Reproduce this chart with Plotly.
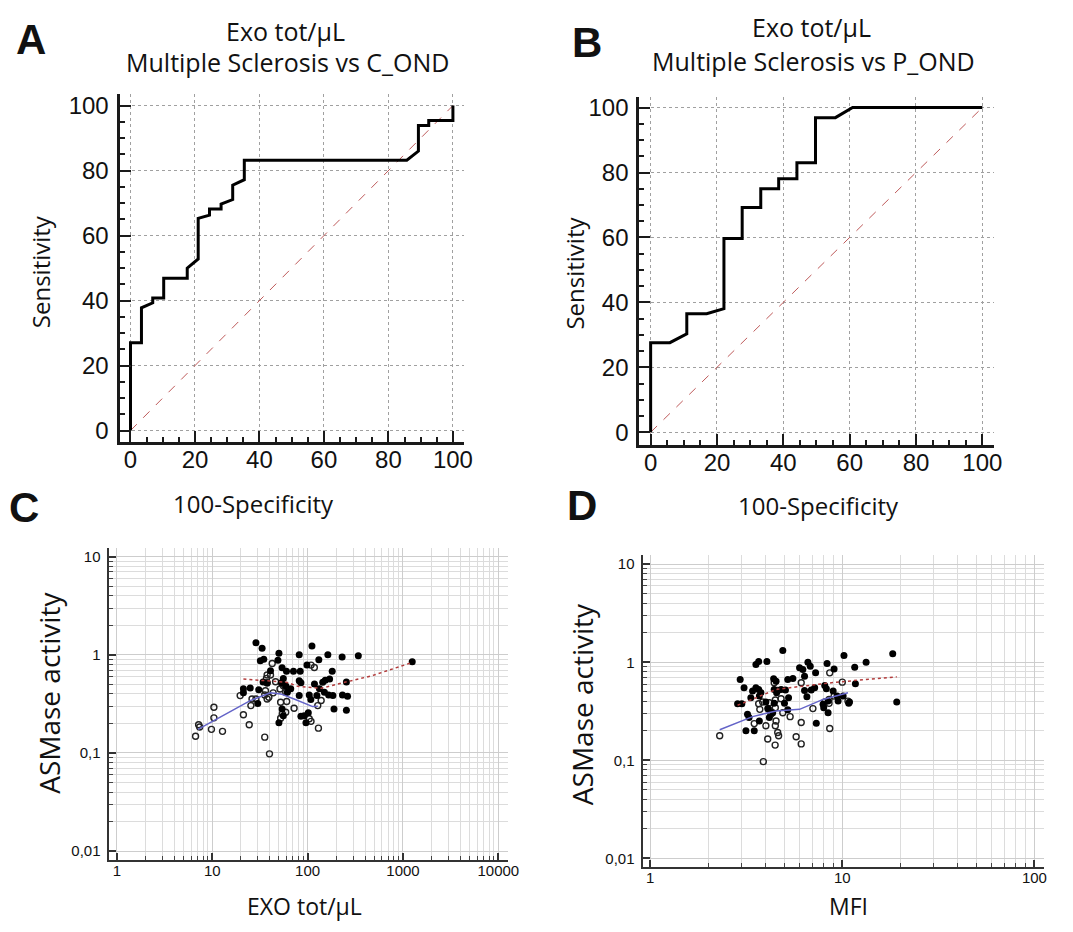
import plotly.graph_objects as go

# reference canvas and the browser's 8px body margin
REF_W, REF_H = 1073, 932
OFF = 8
W, H = REF_W - 2 * OFF, REF_H - 2 * OFF

# ---- A: ROC, Exo tot/uL, MS vs C_OND (100-specificity, sensitivity)
roc_a_fpr = [0, 0, 3.4, 3.4, 6.9, 6.9, 10.3, 10.3, 17.6, 17.6, 21, 21, 24.5, 24.5, 28.1, 28.1,
             31.7, 31.7, 35.3, 35.3, 85.7, 89.3, 89.3, 92.5, 92.5, 100, 100]
roc_a_tpr = [0, 27, 27, 37.8, 39.3, 40.8, 40.8, 46.9, 46.9, 50, 52.8, 65.3, 66.3, 68.2, 68.2, 69.7,
             71.1, 75.5, 77.2, 83.2, 83.2, 86, 93.9, 93.9, 95.4, 95.4, 100]

# ---- B: ROC, Exo tot/uL, MS vs P_OND
roc_b_fpr = [0, 0, 5.8, 10.9, 10.9, 16.9, 22.1, 22.1, 27.6, 27.6, 33.2, 33.2, 38.6, 38.6,
             44.1, 44.1, 49.7, 49.7, 55.7, 60.9, 100]
roc_b_tpr = [0, 27.6, 27.6, 30.3, 36.5, 36.5, 38.1, 59.7, 59.7, 69.2, 69.2, 75, 75, 78.1,
             78.1, 83, 83, 96.9, 96.9, 100, 100]

diag = [0, 100]

# ---- C: ASMase activity vs EXO tot/uL
c_ms_exo = [28.7, 33.3, 31.9, 34.7, 50, 48.8, 81.6, 111, 98.4, 163, 230, 340, 1250, 131, 54, 60,
            71, 83.6, 181, 21.2, 21.2, 25, 30.7, 34.1, 37.6, 30, 53, 55.6, 58.9, 61.3, 66.5, 81.6,
            85, 81.6, 85, 92, 54, 55.6, 50, 96, 101.6, 104, 108, 118, 125, 133, 144, 153, 170,
            150, 166, 184, 189, 255, 232, 262, 255, 40.8]
c_ms_asm = [1.33, 1.17, 0.87, 0.90, 1.04, 0.88, 1.0, 1.23, 0.79, 1.0, 0.95, 0.98, 0.85, 0.89,
            0.74, 0.68, 0.68, 0.68, 0.68, 0.45, 0.41, 0.46, 0.44, 0.53, 0.52, 0.32, 0.52, 0.575,
            0.485, 0.415, 0.45, 0.545, 0.52, 0.384, 0.237, 0.24, 0.28, 0.24, 0.203, 0.203, 0.257,
            0.39, 0.35, 0.505, 0.385, 0.45, 0.525, 0.55, 0.567, 0.415, 0.39, 0.384, 0.28, 0.53,
            0.39, 0.378, 0.273, 0.69]
c_ctrl_exo = [6.68, 7.19, 7.37, 9.8, 10.4, 10.4, 12.8, 19.6, 21.2, 24.4, 25.4, 26.1, 28.7, 35.5,
              39.8, 42.5, 37.6, 40.8, 37.0, 37.6, 36.1, 35.5, 37.6, 39.2, 43.5, 46.1, 51.3, 52.1,
              55.6, 58.9, 60.3, 54.3, 52.1, 58.9, 72.1, 108.5, 117.6, 108.5, 127.7, 138.6, 129.8, 104]
c_ctrl_asm = [0.148, 0.194, 0.184, 0.174, 0.292, 0.228, 0.166, 0.384, 0.245, 0.194, 0.304, 0.355,
              0.355, 0.145, 0.098, 0.817, 0.622, 0.622, 0.575, 0.516, 0.431, 0.39, 0.355, 0.37,
              0.41, 0.532, 0.449, 0.329, 0.485, 0.415, 0.334, 0.25, 0.226, 0.26, 0.286, 0.786,
              0.744, 0.21, 0.304, 0.342, 0.179, 0.223]
c_ms_fit_x = [21.2, 40.8, 61.3, 78.6, 138.6, 208, 471, 1250]
c_ms_fit_y = [0.567, 0.545, 0.524, 0.478, 0.456, 0.505, 0.612, 0.836]
c_ctrl_fit_x = [7.07, 13.0, 25.0, 40.8, 52.1, 72.1, 113, 128]
c_ctrl_fit_y = [0.174, 0.241, 0.342, 0.41, 0.40, 0.355, 0.297, 0.30]

# ---- D: ASMase activity vs MFI
d_ms_mfi = [4.9, 3.67, 3.55, 2.94, 3.08, 2.85, 3.0, 3.34, 3.41, 3.55, 3.67, 3.7, 3.77, 3.27, 3.21,
            3.15, 3.48, 3.7, 4.05, 4.39, 4.52, 4.42, 4.55, 4.8, 5.06, 5.2, 5.25, 5.0, 5.2, 4.0,
            4.09, 4.17, 4.34, 4.42, 5.53, 5.99, 6.23, 6.36, 6.62, 6.81, 7.26, 6.36, 6.54, 6.89,
            7.18, 7.32, 8.1, 8.26, 8.33, 8.43, 7.94, 8.0, 8.43, 9.06, 8.96, 9.4, 9.51, 10.2, 10.1,
            10.9, 11.6, 11.7, 13.3, 18.3, 19.2, 10.8]
d_ms_asm = [1.32, 1.02, 0.95, 0.667, 0.55, 0.378, 0.378, 0.435, 0.508, 0.55, 0.528, 0.452, 0.49,
            0.273, 0.295, 0.2, 0.2, 0.252, 1.02, 0.678, 0.641, 0.528, 0.49, 0.528, 0.52, 0.667,
            0.435, 0.381, 0.327, 0.393, 0.337, 0.273, 0.306, 0.381, 0.682, 0.877, 0.843, 0.722,
            1.0, 0.911, 0.78, 0.516, 0.445, 0.52, 0.55, 0.239, 0.58, 0.537, 0.97, 0.402, 0.373,
            0.344, 0.306, 0.856, 0.508, 0.452, 0.402, 1.17, 0.452, 0.393, 0.89, 0.603, 1.0, 1.22,
            0.393, 0.381]
d_ctrl_mfi = [2.3, 3.48, 3.67, 3.72, 3.85, 3.88, 4.0, 4.09, 4.14, 4.17, 4.25, 4.42, 4.48, 4.48,
              4.52, 4.48, 4.47, 4.61, 4.66, 4.61, 4.8, 4.9, 5.35, 5.75, 6.11, 6.11, 6.11, 7.03,
              8.1, 8.53, 8.6, 8.53, 8.6, 9.06, 10.0, 10.7]
d_ctrl_asm = [0.178, 0.237, 0.378, 0.331, 0.393, 0.097, 0.225, 0.165, 0.331, 0.387, 0.295, 0.618,
              0.412, 0.344, 0.252, 0.225, 0.143, 0.192, 0.178, 0.516, 0.425, 0.306, 0.279, 0.174,
              0.618, 0.243, 0.147, 0.337, 0.393, 0.418, 0.78, 0.381, 0.211, 0.452, 0.627, 0.402]
d_ms_fit_x = [2.85, 3.55, 4.52, 6.23, 9.32, 19.2]
d_ms_fit_y = [0.364, 0.435, 0.528, 0.571, 0.627, 0.71]
d_ctrl_fit_x = [2.3, 3.41, 4.52, 5.99, 7.94, 10.7]
d_ctrl_fit_y = [0.205, 0.279, 0.319, 0.331, 0.418, 0.489]

# tick labels
log_y_ticks = [0.01, 0.1, 1, 10]
log_y_text = ["0,01", "0,1", "1", "10"]
c_x_ticks = [1, 10, 100, 1000, 10000]
d_x_ticks = [1, 10, 100]


# reference pixel -> paper fraction
def px(x):
    return (x - OFF) / W


def py(y):
    return 1 - (y - OFF) / H


def minor_log(lo, hi):
    return [m * 10 ** e for e in range(lo, hi) for m in range(2, 10)]


fig = go.Figure()

red = "rgb(178,60,60)"
blue = "rgb(100,100,200)"
diag_col = "rgb(190,90,90)"

# A
fig.add_trace(go.Scatter(x=diag, y=diag, mode="lines", xaxis="x", yaxis="y",
                         line=dict(color=diag_col, width=1, dash="dash")))
fig.add_trace(go.Scatter(x=roc_a_fpr, y=roc_a_tpr, mode="lines", xaxis="x", yaxis="y",
                         line=dict(color="black", width=3)))
# B
fig.add_trace(go.Scatter(x=diag, y=diag, mode="lines", xaxis="x2", yaxis="y2",
                         line=dict(color=diag_col, width=1, dash="dash")))
fig.add_trace(go.Scatter(x=roc_b_fpr, y=roc_b_tpr, mode="lines", xaxis="x2", yaxis="y2",
                         line=dict(color="black", width=3)))
# C
fig.add_trace(go.Scatter(x=c_ctrl_exo, y=c_ctrl_asm, mode="markers", xaxis="x3", yaxis="y3",
                         marker=dict(symbol="circle-open", size=6, color="#222",
                                     line=dict(width=1.4))))
fig.add_trace(go.Scatter(x=c_ms_exo, y=c_ms_asm, mode="markers", xaxis="x3", yaxis="y3",
                         marker=dict(size=7, color="black")))
fig.add_trace(go.Scatter(x=c_ms_fit_x, y=c_ms_fit_y, mode="lines", xaxis="x3", yaxis="y3",
                         line=dict(color=red, width=1.5, dash="dot")))
fig.add_trace(go.Scatter(x=c_ctrl_fit_x, y=c_ctrl_fit_y, mode="lines", xaxis="x3", yaxis="y3",
                         line=dict(color=blue, width=1.5)))
# D
fig.add_trace(go.Scatter(x=d_ctrl_mfi, y=d_ctrl_asm, mode="markers", xaxis="x4", yaxis="y4",
                         marker=dict(symbol="circle-open", size=6, color="#222",
                                     line=dict(width=1.4))))
fig.add_trace(go.Scatter(x=d_ms_mfi, y=d_ms_asm, mode="markers", xaxis="x4", yaxis="y4",
                         marker=dict(size=7, color="black")))
fig.add_trace(go.Scatter(x=d_ms_fit_x, y=d_ms_fit_y, mode="lines", xaxis="x4", yaxis="y4",
                         line=dict(color=red, width=1.5, dash="dot")))
fig.add_trace(go.Scatter(x=d_ctrl_fit_x, y=d_ctrl_fit_y, mode="lines", xaxis="x4", yaxis="y4",
                         line=dict(color=blue, width=1.5)))


def roc_axis(domain, rng, anchor, standoff):
    return dict(domain=domain, range=rng, anchor=anchor, tick0=0, dtick=20,
                showline=True, linecolor="#1a1a1a", linewidth=3, mirror=False,
                ticks="inside", ticklen=11, tickwidth=2, tickcolor="#1a1a1a",
                showgrid=True, gridcolor="#a0a0a0", griddash="dot", gridwidth=1,
                zeroline=False, ticklabelstandoff=standoff,
                tickfont=dict(family="Liberation Sans", size=24, color="#111"),
                minor=dict(tick0=0, dtick=5, ticks="inside", ticklen=5, tickwidth=1.5,
                           tickcolor="#1a1a1a", showgrid=False))


def log_axis(domain, rng, anchor, tickvals, ticktext, lo, hi, standoff):
    return dict(type="log", domain=domain, range=rng, anchor=anchor,
                tickmode="array", tickvals=tickvals, ticktext=ticktext,
                showline=True, linecolor="#333", linewidth=2, mirror=False,
                ticks="inside", ticklen=7, tickwidth=1.5, tickcolor="#333",
                showgrid=True, gridcolor="#cdcdcd", gridwidth=1, zeroline=False,
                ticklabelstandoff=standoff,
                tickfont=dict(family="Liberation Sans", size=15, color="#111"),
                minor=dict(tickmode="array", tickvals=minor_log(lo, hi), ticks="inside",
                           ticklen=4, tickwidth=1, tickcolor="#444",
                           showgrid=True, gridcolor="#dcdcdc", gridwidth=1))


fig.update_layout(
    width=W, height=H, margin=dict(l=0, r=0, t=0, b=0),
    paper_bgcolor="white", plot_bgcolor="white", showlegend=False,
    font=dict(family="Liberation Sans", color="#111"),
    xaxis=roc_axis([px(120.7), px(469)], [-3.4, 103.5], "y", -5),
    yaxis=roc_axis([py(441), py(91.7)], [-3.4, 103.5], "x", 3),
    xaxis2=roc_axis([px(646), px(1004.3)], [-3.4, 103.5], "y2", -5),
    yaxis2=roc_axis([py(444), py(94)], [-3.8, 103.4], "x2", 3),
    xaxis3=log_axis([px(109.6), px(513.7)], [-0.088, 4.106], "y3",
                    c_x_ticks, [str(v) for v in c_x_ticks], 0, 4, -4),
    yaxis3=log_axis([py(861.7), py(548.3)], [-2.091, 1.085], "x3",
                    log_y_ticks, log_y_text, -2, 1, 3),
    xaxis4=log_axis([px(649.2), px(1055.3)], [-0.040, 2.052], "y4",
                    d_x_ticks, [str(v) for v in d_x_ticks], 0, 2, -4),
    yaxis4=log_axis([py(869), py(555)], [-2.091, 1.094], "x4",
                    log_y_ticks, log_y_text, -2, 1, 3),
)


def label(text, x, y, size, family="Open Sans", angle=0, bold=False):
    if bold:
        text = "<b>" + text + "</b>"
    fig.add_annotation(text=text, x=px(x), y=py(y), xref="paper", yref="paper",
                       showarrow=False, xanchor="center", yanchor="middle", textangle=angle,
                       font=dict(family=family, size=size, color="#111"))


# panel letters
label("A", 31, 37, 42, "Liberation Sans", bold=True)
label("B", 593, 40, 42, "Liberation Sans", bold=True)
label("C", 24, 507, 42, "Liberation Sans", bold=True)
label("D", 588, 505, 42, "Liberation Sans", bold=True)

# titles
label("Exo tot/µL", 288, 28, 25)
label("Multiple Sclerosis vs C_OND", 290, 59, 25)
label("Exo tot/µL", 820, 24, 25)
label("Multiple Sclerosis vs P_OND", 822, 58, 25)

# axis titles
label("Sensitivity", 41, 270, 24, angle=-90)
label("Sensitivity", 581, 272, 24, angle=-90)
label("100-Specificity", 256, 503, 24)
label("100-Specificity", 827, 505, 24)
label("ASMase activity", 50, 694, 28, angle=-90)
label("EXO tot/µL", 308, 908, 23)
label("ASMase activity", 588, 705, 28, angle=-90)
label("MFI", 857, 908, 23)

fig.write_html("out.html")
